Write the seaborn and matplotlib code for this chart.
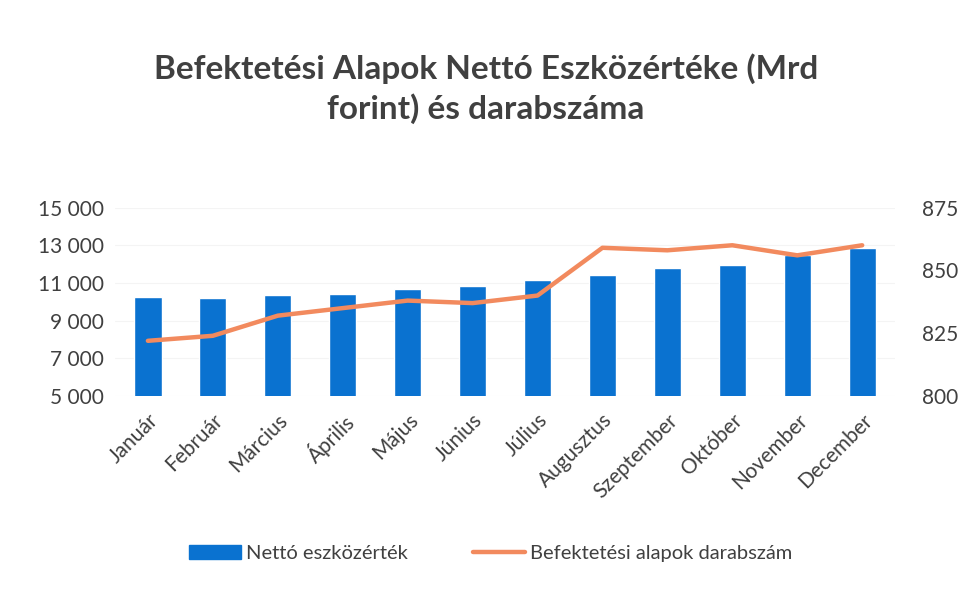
import matplotlib
matplotlib.use("Agg")
import matplotlib.pyplot as plt
import seaborn as sns
import pandas as pd
from matplotlib.ticker import FuncFormatter
from matplotlib.patches import Patch
from matplotlib.lines import Line2D

months = ["Január", "Február", "Március", "Április", "Május", "Június", "Július",
          "Augusztus", "Szeptember", "Október", "November", "December"]
net_assets = [10240, 10200, 10350, 10400, 10700, 10850, 11150, 11420, 11790, 11950, 12490, 12840]
fund_count = [822, 824, 832, 835, 838, 837, 840, 859, 858, 860, 856, 860]
left_ticks = [5000, 7000, 9000, 11000, 13000, 15000]
right_ticks = [800, 825, 850, 875]
title = "Befektetési Alapok Nettó Eszközértéke (Mrd\nforint) és darabszáma"
bar_label = "Nettó eszközérték"
line_label = "Befektetési alapok darabszám"

bar_color = "#0A72D0"
line_color = "#F28A5E"
text_color = "#404040"

sns.set_theme(style="white")
plt.rcParams["font.family"] = ["Lato", "DejaVu Sans"]

df = pd.DataFrame({"month": months, "net": net_assets, "count": fund_count})

fig = plt.figure(figsize=(9.62, 5.93), dpi=100)
ax = fig.add_axes([0.12, 0.332, 0.81, 0.318])

sns.barplot(data=df, x="month", y="net", color=bar_color, width=0.42,
            saturation=1, ax=ax)
ax.set_ylim(left_ticks[0], left_ticks[-1])
ax.set_yticks(left_ticks)
ax.yaxis.set_major_formatter(FuncFormatter(lambda v, p: f"{int(v):,}".replace(",", " ")))
ax.set_xlim(-0.5, len(months) - 0.5)
ax.set_xlabel("")
ax.set_ylabel("")
ax.grid(axis="y", color="#f4f4f4", linewidth=0.8)
ax.set_axisbelow(True)
for s in ax.spines.values():
    s.set_visible(False)
ax.tick_params(axis="y", labelsize=15, colors=text_color, pad=8, length=0)
ax.tick_params(axis="x", labelsize=15, colors=text_color, length=0, pad=10)
plt.setp(ax.get_xticklabels(), rotation=45, ha="right", rotation_mode="anchor")

ax2 = ax.twinx()
sns.lineplot(data=df, x="month", y="count", color=line_color, linewidth=3.2,
             ax=ax2, sort=False)
ax2.set_ylim(right_ticks[0], right_ticks[-1])
ax2.set_yticks(right_ticks)
ax2.set_ylabel("")
ax2.set_xlabel("")
for s in ax2.spines.values():
    s.set_visible(False)
ax2.tick_params(axis="y", labelsize=15, colors=text_color, pad=20, length=0)
ax2.grid(False)

fig.text(0.505, 0.85, title, ha="center", va="center", fontsize=24,
         fontweight="bold", color=text_color, linespacing=1.35)

handles = [Patch(facecolor=bar_color, edgecolor=bar_color),
           Line2D([0], [0], color=line_color, linewidth=3.2)]
fig.legend(handles, [bar_label, line_label], loc="center", bbox_to_anchor=(0.51, 0.067),
           ncol=2, frameon=False, fontsize=14.5, handlelength=2.6, handletextpad=0.25,
           columnspacing=3.2, labelcolor=text_color)

fig.savefig("out.png", dpi=100)
